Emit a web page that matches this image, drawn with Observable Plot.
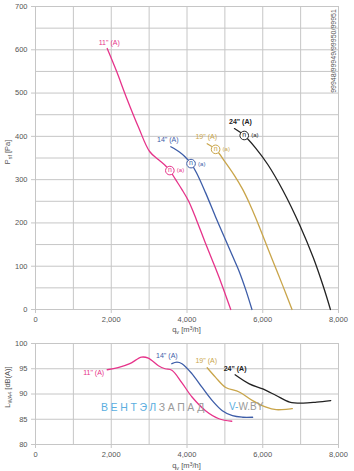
<!DOCTYPE html>
<html><head><meta charset="utf-8">
<script src="https://cdn.jsdelivr.net/npm/d3@7"></script>
<script src="https://cdn.jsdelivr.net/npm/@observablehq/plot@0.6"></script>
<style>
body{margin:0;background:#fff;}
#wrap{position:relative;width:354px;height:471px;font-family:"Liberation Sans",Arial,sans-serif;}
#wrap svg{display:block;}
.wm{position:absolute;left:101px;top:401px;font-size:10.5px;letter-spacing:2.6px;white-space:nowrap;}
.wm2{position:absolute;left:229px;top:401px;font-size:10px;white-space:nowrap;}
.code{position:absolute;left:333px;top:51px;transform:translate(-50%,-50%) rotate(-90deg);font-size:7px;color:#555;white-space:nowrap;}
</style></head>
<body><div id="wrap"></div>
<script>
// ---- data ----
const sizes = ["11\" (A)", "14\" (A)", "19\" (A)", "24\" (A)"];
const colors = ["#e6338a", "#3d5da8", "#c9a54a", "#222222"];

const p11_q = [1893, 2133, 2400, 2720, 3013, 3250, 3413, 3547, 3700, 3867, 4044, 4250, 4480, 4700, 4900, 5155];
const p11_P = [603, 552, 490, 421, 365, 346, 334, 321, 300, 277, 250, 207, 155, 107, 62, 0];
const p14_q = [3573, 3800, 3947, 4107, 4250, 4489, 4750, 5022, 5200, 5378, 5550, 5715];
const p14_P = [376, 364, 353, 337, 316, 270, 215, 160, 124, 88, 46, 0];
const p19_q = [4533, 4755, 5013, 5250, 5467, 5650, 5813, 6050, 6267, 6533, 6773];
const p19_P = [383, 370, 340, 310, 278, 245, 212, 160, 112, 54, 0];
const p24_q = [5253, 5511, 5813, 6133, 6533, 6987, 7333, 7600, 7787];
const p24_P = [418, 402, 373, 335, 275, 193, 120, 53, 0];

const s11_q = [1893, 2178, 2489, 2800, 2978, 3245, 3420, 3600, 3867, 4133, 4489, 4844, 5182];
const s11_L = [94.8, 95.2, 96.0, 97.3, 97.1, 95.6, 95.0, 94.7, 92.2, 89.4, 86.7, 85.1, 84.6];
const s14_q = [3600, 3733, 3867, 4133, 4400, 4667, 4933, 5200, 5467, 5733];
const s14_L = [96.0, 96.3, 96.0, 94.0, 91.3, 88.7, 86.7, 85.7, 85.4, 85.4];
const s19_q = [4533, 4755, 5022, 5378, 5733, 6089, 6355, 6782];
const s19_L = [95.2, 93.3, 91.3, 90.4, 88.7, 87.4, 86.9, 87.1];
const s24_q = [5270, 5645, 6000, 6355, 6711, 7067, 7422, 7795];
const s24_L = [93.8, 92.0, 91.0, 89.7, 88.4, 88.2, 88.4, 88.7];

const mk_q = [3547, 4107, 4755, 5511];
const mk_P = [321, 337, 370, 402];

const xTicks = [0, 2000, 4000, 6000, 8000];
const xGrid = [0, 1000, 2000, 3000, 4000, 5000, 6000, 7000, 8000];
const pTicks = [0, 100, 200, 300, 400, 500, 600, 700];
const pGrid = [0, 50, 100, 150, 200, 250, 300, 350, 400, 450, 500, 550, 600, 650, 700];
const lTicks = [80, 85, 90, 95, 100];

// label offsets (px) relative to curve starts
const pLabDx = [2, -3, -1, 6], pLabDy = [-6, -7, -7, -7];
const sLabDx = [-3, -5, -1, 0], sLabDy = [3, -8, -7, -6];
const sLabAnchor = ["end", "middle", "middle", "middle"];

// ---- build rows ----
const pq = [p11_q, p14_q, p19_q, p24_q], pP = [p11_P, p14_P, p19_P, p24_P];
const sq = [s11_q, s14_q, s19_q, s24_q], sL = [s11_L, s14_L, s19_L, s24_L];
const pRows = [], sRows = [];
sizes.forEach((s, i) => {
  pq[i].forEach((q, j) => pRows.push({s, q, v: pP[i][j]}));
  sq[i].forEach((q, j) => sRows.push({s, q, v: sL[i][j]}));
});
const mk = sizes.map((s, i) => ({s, q: mk_q[i], v: mk_P[i]}));
const pStart = sizes.map((s, i) => ({s, i, q: pq[i][0], v: pP[i][0]}));
const sStart = sizes.map((s, i) => ({s, i, q: sq[i][0], v: sL[i][0]}));

const font = "Liberation Sans, Arial, sans-serif";
const gridC = "#c6c6c6";
const color = {domain: sizes, range: colors};

function labels(starts, dxs, dys, anchors) {
  return starts.map(d => Plot.text([d], {x: "q", y: "v", text: "s", fill: colors[d.i],
    dx: dxs[d.i], dy: dys[d.i], fontSize: 7, fontWeight: d.i === 3 ? "bold" : "normal",
    textAnchor: anchors ? anchors[d.i] : "middle"}));
}

const topChart = Plot.plot({
  width: 354, height: 335, marginTop: 6, marginBottom: 26, marginLeft: 35, marginRight: 16,
  style: {fontFamily: font, fontSize: "7.5px", color: "#555", background: "#fff"},
  x: {domain: [0, 8000]}, y: {domain: [0, 700]}, color,
  marks: [
    Plot.gridX(xGrid, {stroke: gridC, strokeOpacity: 1, strokeWidth: 1}),
    Plot.gridY(pGrid, {stroke: gridC, strokeOpacity: 1, strokeWidth: 1}),
    Plot.axisX(xTicks, {tickFormat: d3.format(","), tickSize: 4, tickPadding: 3, stroke: gridC, label: null}),
    Plot.axisY(pTicks, {tickSize: 4, tickPadding: 4, stroke: gridC, label: null}),
    Plot.line(pRows, {x: "q", y: "v", z: "s", stroke: "s", strokeWidth: 1.3, curve: "catmull-rom"}),
    Plot.dot(mk, {x: "q", y: "v", r: 4.3, fill: "#fff", stroke: "s", strokeWidth: 1}),
    Plot.text(mk, {x: "q", y: "v", text: () => "n", fill: "s", fontSize: 7, dy: -0.5}),
    Plot.text(mk, {x: "q", y: "v", text: () => "(a)", fill: "s", fontSize: 6, dx: 7, textAnchor: "start"}),
    ...labels(pStart, pLabDx, pLabDy)
  ]
});

const bottomChart = Plot.plot({
  width: 354, height: 136, marginTop: 8, marginBottom: 27, marginLeft: 35, marginRight: 16,
  style: {fontFamily: font, fontSize: "7.5px", color: "#555", background: "#fff"},
  x: {domain: [0, 8000]}, y: {domain: [80, 100]}, color,
  marks: [
    Plot.gridX(xGrid, {stroke: gridC, strokeOpacity: 1, strokeWidth: 1}),
    Plot.gridY(lTicks, {stroke: gridC, strokeOpacity: 1, strokeWidth: 1}),
    Plot.axisX(xTicks, {tickFormat: d3.format(","), tickSize: 4, tickPadding: 3, stroke: gridC, label: null}),
    Plot.axisY(lTicks, {tickSize: 4, tickPadding: 4, stroke: gridC, label: null}),
    Plot.line(sRows, {x: "q", y: "v", z: "s", stroke: "s", strokeWidth: 1.3, curve: "catmull-rom"}),
    ...labels(sStart, sLabDx, sLabDy, sLabAnchor)
  ]
});

function addLabels(svg, h, yMid, yMain, ySub, yUnit) {
  const s = d3.select(svg);
  const cx = (35 + 338) / 2;
  const xl = s.append("text").attr("x", cx).attr("y", h - 3).attr("text-anchor", "middle")
    .attr("font-size", 7.5).attr("fill", "#555").attr("font-family", font);
  xl.append("tspan").text("q");
  xl.append("tspan").attr("font-size", 5.5).attr("dy", 1.5).text("v");
  xl.append("tspan").attr("dy", -1.5).text(" [m");
  xl.append("tspan").attr("font-size", 5.5).attr("dy", -2.5).text("3");
  xl.append("tspan").attr("dy", 2.5).text("/h]");
  const yl = s.append("text").attr("transform", `translate(10,${yMid}) rotate(-90)`)
    .attr("text-anchor", "middle").attr("font-size", 7.5).attr("fill", "#555").attr("font-family", font);
  yl.append("tspan").text(yMain);
  yl.append("tspan").attr("font-size", 5.5).attr("dy", 1.5).text(ySub);
  yl.append("tspan").attr("dy", -1.5).text(" " + yUnit);
}
addLabels(topChart, 335, 152, "P", "sf", "[Pa]");
addLabels(bottomChart, 136, 52, "L", "WA4", "[dB(A)]");

const wrap = document.getElementById("wrap");
wrap.append(topChart, bottomChart);
const code = document.createElement("div");
code.className = "code"; code.textContent = "99948/99949/99950/99951";
wrap.append(code);
const wm = document.createElement("div");
wm.className = "wm";
wm.innerHTML = '<span style="color:#5aaee0">ВЕНТЭЛ</span><span style="color:#9a9a9a">ЗАПАД</span>';
wrap.append(wm);
const wm2 = document.createElement("div");
wm2.className = "wm2";
wm2.innerHTML = '<span style="color:#5aaee0">V-</span><span style="color:#9a9a9a">W.BY</span>';
wrap.append(wm2);
</script></body></html>
